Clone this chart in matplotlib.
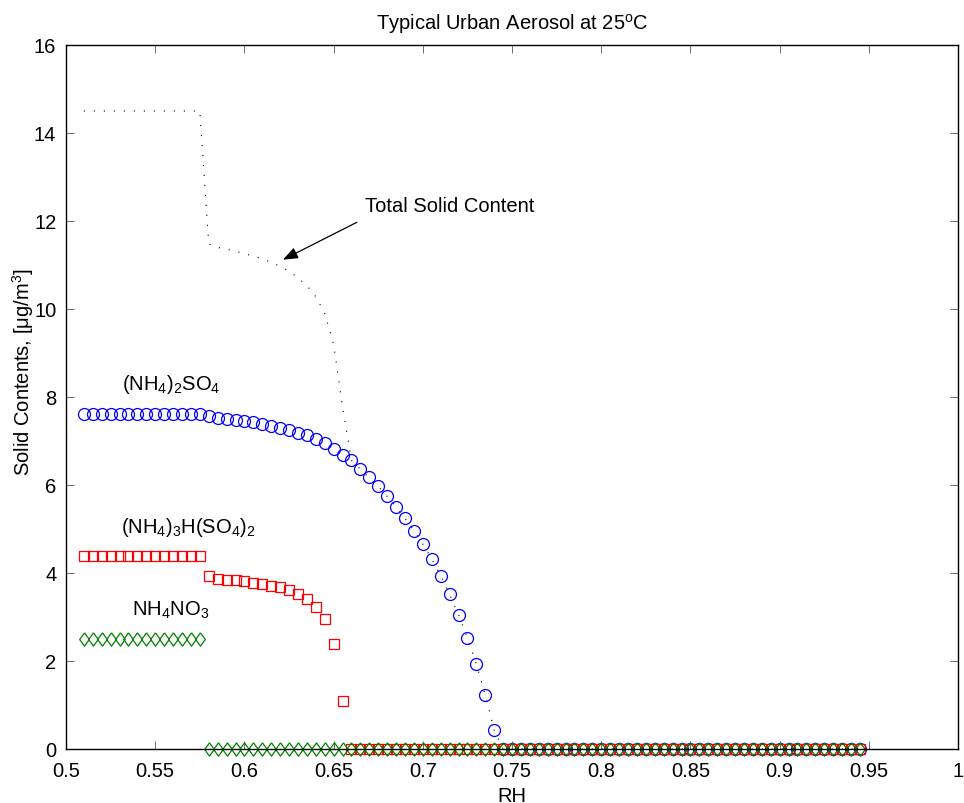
import numpy as np
import matplotlib
matplotlib.use('Agg')
import matplotlib.pyplot as plt
from matplotlib.ticker import FormatStrFormatter

plt.rcParams['font.family'] = ['Liberation Sans', 'DejaVu Sans']
plt.rcParams['mathtext.fontset'] = 'custom'
plt.rcParams['mathtext.rm'] = 'Liberation Sans'
plt.rcParams['mathtext.default'] = 'regular'

# RH grid 0.51 .. 0.945, step 0.005 (88 points)
rh = np.round(np.arange(0.51, 0.9451, 0.005), 3)

# (NH4)2SO4 - flat part then decreasing until deliquescence
as_flat = [7.62] * 14  # 0.51 .. 0.575
as_drop = [7.56, 7.53, 7.51, 7.48, 7.45, 7.42, 7.39, 7.35, 7.30, 7.25,
           7.19, 7.13, 7.05, 6.95, 6.82, 6.69, 6.56, 6.36, 6.17, 5.97,
           5.74, 5.51, 5.24, 4.96, 4.66, 4.32, 3.94, 3.52, 3.05, 2.53,
           1.93, 1.23, 0.43]  # 0.58 .. 0.74
as_zero = [0.0] * 41  # 0.745 .. 0.945
sulfate = np.array(as_flat + as_drop + as_zero)

# (NH4)3H(SO4)2
let_flat = [4.39] * 14
let_drop = [3.92, 3.87, 3.85, 3.83, 3.81, 3.78, 3.75, 3.71, 3.67, 3.61,
            3.52, 3.40, 3.23, 2.95, 2.38, 1.08]  # 0.58 .. 0.655
let_zero = [0.0] * 58  # 0.66 .. 0.945
letovicite = np.array(let_flat + let_drop + let_zero)

# NH4NO3
an_flat = [2.49] * 14
an_zero = [0.0] * 74  # 0.58 .. 0.945
nitrate = np.array(an_flat + an_zero)

total = sulfate + letovicite + nitrate

fig = plt.figure(figsize=(9.64, 8.04), dpi=100)
ax = fig.add_axes([0.0685, 0.0672, 0.9253, 0.8756])

ax.plot(rh, total, color='k', linewidth=0.8, linestyle=(0, (1, 8)))
ax.plot(rh, sulfate, 'o', markersize=8.6, markerfacecolor='none',
        markeredgecolor='#0000ff', markeredgewidth=0.9, clip_on=False)
ax.plot(rh, letovicite, 's', markersize=6.6, markerfacecolor='none',
        markeredgecolor='#ff0000', markeredgewidth=0.9, clip_on=False)
diamond = [(0, 1), (0.72, 0), (0, -1), (-0.72, 0), (0, 1)]
ax.plot(rh, nitrate, marker=diamond, linestyle='none', markersize=9.6,
        markerfacecolor='none', markeredgecolor='#008000', markeredgewidth=0.9,
        clip_on=False)

fs = 14.5
ax.text(0.5312, 8.18, r'(NH$_4$)$_2$SO$_4$', fontsize=fs, va='baseline')
ax.text(0.5307, 4.93, r'(NH$_4$)$_3$H(SO$_4$)$_2$', fontsize=fs, va='baseline')
ax.text(0.5368, 3.05, r'NH$_4$NO$_3$', fontsize=fs, va='baseline')
ax.text(0.6676, 12.23, 'Total Solid Content', fontsize=fs, va='baseline')
ax.annotate('', xy=(0.6216, 11.12), xytext=(0.663, 11.97),
            arrowprops=dict(arrowstyle='-|>,head_length=0.9,head_width=0.35',
                            color='k', linewidth=0.9, shrinkA=0, shrinkB=0))

ax.set_xlim(0.5, 1.0)
ax.set_ylim(0, 16)
ax.set_xticks(np.arange(0.5, 1.0001, 0.05))
ax.set_yticks(np.arange(0, 16.01, 2))
ax.xaxis.set_major_formatter(FormatStrFormatter('%g'))
ax.yaxis.set_major_formatter(FormatStrFormatter('%g'))
ax.tick_params(direction='in', length=6, width=0.6, top=True, right=True,
               labelsize=fs, color='#555555')
ax.tick_params(axis='x', pad=9)
ax.tick_params(axis='y', pad=7)
for s in ax.spines.values():
    s.set_linewidth(1.0)

ax.set_title(r'Typical Urban Aerosol at 25$^o$C', fontsize=fs, pad=12)
ax.set_xlabel('RH', fontsize=fs)
ax.xaxis.set_label_coords(0.5, -0.052)
ax.set_ylabel(r'Solid Contents, [$\mu$g/m$^3$]', fontsize=fs)
ax.yaxis.set_label_coords(-0.034, 0.537)

fig.savefig('out.png', dpi=100)
